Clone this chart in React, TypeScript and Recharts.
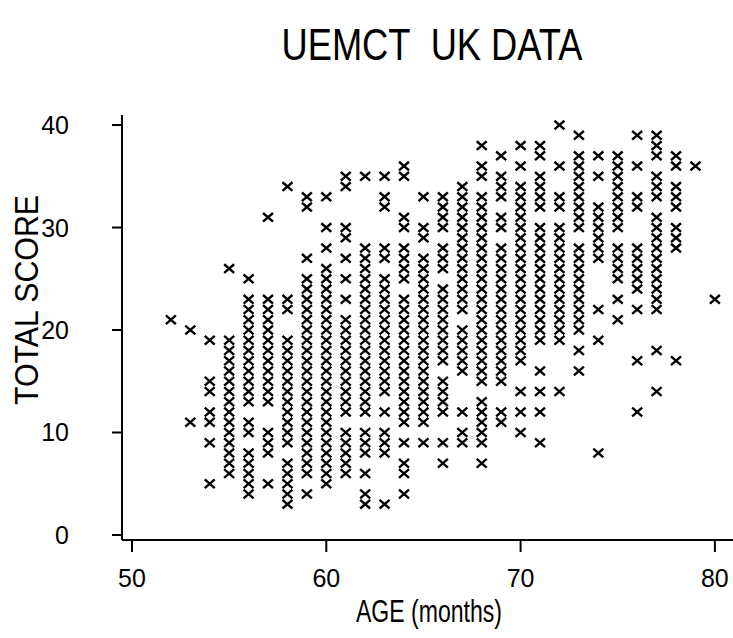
import React from 'react';
import { ScatterChart, Scatter, XAxis, YAxis } from 'recharts';

// --- DATA ---

const ages = [52, 53, 54, 55, 56, 57, 58, 59, 60, 61, 62, 63, 64, 65, 66, 67, 68, 69, 70, 71, 72, 73, 74, 75, 76, 77, 78, 79, 80];

// total scores observed at each age (same order as ages)
const scoresByAge = [
  [21],
  [20, 11],
  [19, 15, 14, 12, 11, 9, 5],
  [26, 19, 18, 17, 16, 15, 14, 13, 12, 11, 10, 9, 8, 7, 6],
  [25, 23, 22, 21, 20, 19, 18, 17, 16, 15, 14, 13, 11, 10, 8, 7, 6, 5, 4],
  [31, 23, 22, 21, 20, 19, 18, 17, 16, 15, 14, 13, 10, 9, 8, 5],
  [34, 23, 22, 19, 18, 17, 16, 15, 14, 13, 12, 11, 10, 9, 7, 6, 5, 4, 3],
  [33, 32, 27, 25, 24, 23, 22, 21, 20, 19, 18, 17, 16, 15, 14, 13, 12, 11, 10, 9, 8, 7, 6, 4],
  [33, 30, 28, 26, 25, 24, 23, 22, 21, 20, 19, 18, 17, 16, 15, 14, 13, 12, 11, 10, 9, 8, 7, 6, 5],
  [35, 34, 30, 29, 27, 25, 23, 21, 20, 19, 18, 17, 16, 15, 14, 13, 12, 10, 9, 8, 7, 6],
  [35, 28, 27, 26, 25, 24, 23, 22, 21, 20, 19, 18, 17, 16, 15, 14, 13, 12, 10, 9, 8, 6, 4, 3],
  [35, 33, 32, 28, 27, 25, 24, 23, 22, 21, 20, 19, 18, 17, 16, 15, 14, 12, 10, 9, 8, 3],
  [36, 35, 31, 30, 28, 27, 26, 25, 23, 22, 21, 20, 19, 18, 17, 16, 15, 14, 13, 12, 11, 9, 7, 6, 4],
  [33, 30, 29, 27, 26, 25, 24, 23, 22, 21, 20, 19, 18, 17, 16, 15, 14, 13, 12, 11, 9],
  [33, 32, 31, 30, 28, 27, 26, 24, 23, 22, 21, 20, 19, 18, 17, 15, 14, 13, 12, 9, 7],
  [34, 33, 32, 31, 30, 29, 28, 27, 26, 25, 24, 23, 22, 20, 19, 18, 17, 16, 12, 10, 9],
  [38, 36, 35, 33, 32, 31, 30, 29, 28, 27, 26, 25, 24, 23, 22, 21, 20, 19, 18, 17, 16, 15, 13, 12, 11, 10, 9, 7],
  [37, 35, 34, 33, 31, 30, 28, 27, 26, 25, 24, 23, 22, 21, 20, 19, 18, 17, 16, 15, 12, 11],
  [38, 36, 34, 33, 32, 31, 30, 29, 28, 27, 26, 25, 24, 23, 22, 21, 20, 19, 18, 17, 14, 12, 10],
  [38, 37, 35, 34, 33, 32, 30, 29, 28, 27, 26, 25, 24, 23, 22, 21, 20, 19, 16, 14, 12, 9],
  [40, 36, 33, 32, 30, 29, 28, 27, 26, 25, 24, 23, 22, 21, 20, 19, 14],
  [39, 37, 36, 35, 34, 33, 32, 31, 30, 28, 27, 26, 25, 24, 23, 22, 21, 20, 18, 16],
  [37, 35, 32, 31, 30, 29, 28, 27, 22, 19, 8],
  [37, 36, 35, 34, 33, 32, 31, 30, 28, 27, 26, 25, 23, 21],
  [39, 36, 33, 32, 28, 27, 26, 25, 24, 22, 17, 12],
  [39, 38, 37, 35, 34, 33, 31, 30, 29, 28, 27, 26, 25, 24, 23, 22, 18, 14],
  [37, 36, 34, 33, 32, 30, 29, 28, 17],
  [36],
  [23],
];

const xTicks = [50, 60, 70, 80];
const yTicks = [0, 10, 20, 30, 40];

const points = ages.flatMap((age, i) => scoresByAge[i].map((score) => ({ age, score })));

const FONT = "'Liberation Sans', Arial, Helvetica, sans-serif";

// "x" marker
const Cross = (props: any) => {
  const { cx, cy } = props;
  if (cx == null || cy == null) return null;
  return (
    <path
      d={`M${cx - 5},${cy - 4.3}L${cx + 5},${cy + 4.3}M${cx - 5},${cy + 4.3}L${cx + 5},${cy - 4.3}`}
      stroke="#000"
      strokeWidth={2.4}
      fill="none"
    />
  );
};

const XTick = (props: any) => (
  <text x={props.x} y={587} textAnchor="middle" fontSize={25} fontFamily={FONT} fill="#000">
    {props.payload.value}
  </text>
);

const YTick = (props: any) => (
  <text x={69} y={props.y} dy={9} textAnchor="end" fontSize={25} fontFamily={FONT} fill="#000">
    {props.payload.value}
  </text>
);

const YLabel = () => (
  <text
    x={38}
    y={300}
    transform="rotate(-90, 38, 300)"
    textAnchor="middle"
    fontSize={33}
    fontFamily={FONT}
    textLength={210}
    lengthAdjust="spacingAndGlyphs"
    fill="#000"
  >
    TOTAL SCORE
  </text>
);

const XLabel = () => (
  <text
    x={429}
    y={622}
    textAnchor="middle"
    fontSize={31}
    fontFamily={FONT}
    textLength={146}
    lengthAdjust="spacingAndGlyphs"
    fill="#000"
  >
    AGE (months)
  </text>
);

export default function App() {
  return (
    <div style={{ position: 'absolute', left: 0, top: 0, width: 733, height: 638, overflow: 'hidden', background: '#fff' }}>
      <svg width={733} height={80} style={{ position: 'absolute', left: 0, top: 0 }}>
        <text
          x={432}
          y={60}
          textAnchor="middle"
          fontSize={45}
          fontFamily={FONT}
          textLength={301}
          lengthAdjust="spacingAndGlyphs"
          fill="#000"
        >
          UEMCT{'\u00A0\u00A0'}UK DATA
        </text>
      </svg>
      <div style={{ position: 'absolute', left: 0, top: 0 }}>
        <ScatterChart width={760} height={638} margin={{ top: 115, right: 15, bottom: 0, left: 42 }}>
          <XAxis
            type="number"
            dataKey="age"
            domain={[49.485, 81.55]}
            ticks={xTicks}
            allowDataOverflow
            height={98}
            tickSize={12}
            tickLine={{ stroke: '#000', strokeWidth: 2 }}
            axisLine={{ stroke: '#000', strokeWidth: 2 }}
            tick={<XTick />}
            label={<XLabel />}
          />
          <XAxis
            xAxisId="top"
            orientation="top"
            type="number"
            domain={[49.485, 81.55]}
            height={0}
            tick={false}
            tickLine={false}
            axisLine={{ stroke: '#000', strokeWidth: 2 }}
          />
          <YAxis
            type="number"
            dataKey="score"
            domain={[-0.49, 40.98]}
            ticks={yTicks}
            allowDataOverflow
            width={80}
            tickSize={10}
            tickLine={{ stroke: '#000', strokeWidth: 2 }}
            axisLine={{ stroke: '#000', strokeWidth: 2 }}
            tick={<YTick />}
            label={<YLabel />}
          />
          <Scatter data={points} shape={<Cross />} isAnimationActive={false} />
        </ScatterChart>
      </div>
    </div>
  );
}
